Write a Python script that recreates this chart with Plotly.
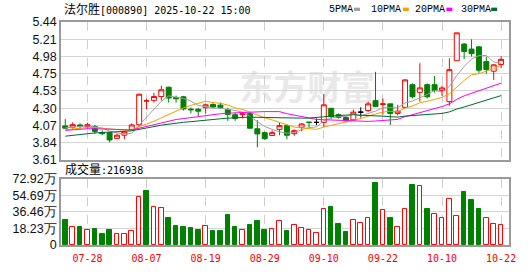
import plotly.graph_objects as go

# ---------------- data ----------------
dates = ["07-23","07-24","07-25","07-28","07-29","07-30","07-31","08-01","08-04","08-05",
         "08-06","08-07","08-08","08-11","08-12","08-13","08-14","08-15","08-18","08-19",
         "08-20","08-21","08-22","08-25","08-26","08-27","08-28","08-29","09-01","09-02",
         "09-03","09-04","09-05","09-08","09-09","09-10","09-11","09-12","09-15","09-16",
         "09-17","09-18","09-19","09-22","09-23","09-24","09-25","09-26","09-29","09-30",
         "10-09","10-10","10-13","10-14","10-15","10-16","10-17","10-20","10-21","10-22"]

opens = [4.06, 4.043, 4.073, 4.052, 4.052, 3.971, 3.971, 3.895, 3.937, 4.014,
         4.077, 4.390, 4.40, 4.45, 4.574, 4.438, 4.447, 4.283, 4.281, 4.302,
         4.345, 4.336, 4.277, 4.209, 4.21, 4.226, 4.022, 3.971, 3.933, 4.014,
         4.064, 3.958, 4.043, 4.110, 4.107, 4.107, 4.294, 4.209, 4.171, 4.141,
         4.243, 4.264, 4.396, 4.345, 4.353, 4.226, 4.306, 4.608, 4.506, 4.608,
         4.608, 4.532, 4.383, 4.926, 5.147, 5.08, 5.11, 4.914, 4.787, 4.876]
highs = [4.15, 4.107, 4.094, 4.103, 4.073, 4.001, 3.980, 3.958, 3.997, 4.094,
         4.489, 4.42, 4.50, 4.595, 4.582, 4.463, 4.459, 4.307, 4.298, 4.357,
         4.362, 4.370, 4.302, 4.234, 4.245, 4.243, 4.137, 3.984, 4.001, 4.107,
         4.081, 4.014, 4.094, 4.112, 4.16, 4.481, 4.294, 4.226, 4.192, 4.277,
         4.307, 4.383, 4.778, 4.425, 4.353, 4.340, 4.680, 4.625, 4.892, 4.625,
         4.723, 4.595, 4.956, 5.296, 5.160, 5.21, 5.12, 4.978, 4.88, 4.986]
lows = [4.02, 4.022, 4.022, 4.022, 3.954, 3.937, 3.844, 3.886, 3.882, 4.001,
        4.043, 4.28, 4.37, 4.396, 4.37, 4.37, 4.264, 4.226, 4.192, 4.226,
        4.302, 4.285, 4.128, 4.128, 4.16, 4.022, 3.776, 3.874, 3.933, 3.937,
        3.882, 3.929, 3.988, 4.043, 4.07, 4.043, 4.158, 4.158, 4.115, 4.128,
        4.171, 4.243, 4.319, 4.213, 4.073, 4.200, 4.298, 4.425, 4.383, 4.425,
        4.502, 4.459, 4.328, 4.926, 4.948, 4.98, 4.765, 4.752, 4.672, 4.829]
closes = [4.03, 4.077, 4.056, 4.077, 3.988, 3.958, 3.874, 3.937, 3.980, 4.073,
          4.481, 4.394, 4.45, 4.54, 4.43, 4.42, 4.285, 4.275, 4.256, 4.340,
          4.311, 4.302, 4.213, 4.158, 4.23, 4.030, 3.954, 3.890, 3.971, 4.064,
          3.937, 3.997, 4.086, 4.107, 4.107, 4.340, 4.183, 4.171, 4.128, 4.243,
          4.243, 4.353, 4.319, 4.353, 4.226, 4.256, 4.671, 4.447, 4.565, 4.447,
          4.532, 4.565, 4.807, 5.296, 5.049, 5.02, 4.80, 4.81, 4.871, 4.944]
# volume in 万 (10k shares)
volumes = [27.6, 19.8, 20.2, 17.0, 18.1, 12.7, 17.0, 12.4, 12.4, 15.6,
           53.1, 59.5, 42.5, 41.4, 29.7, 21.2, 19.5, 18.4, 17.0, 21.2,
           15.2, 15.2, 32.9, 20.2, 17.0, 22.3, 26.5, 16.3, 17.7, 26.2,
           15.9, 21.9, 19.1, 16.6, 13.5, 40.0, 42.5, 23.4, 14.9, 27.3,
           24.1, 30.4, 68.0, 38.9, 29.7, 19.8, 40.0, 65.8, 65.5, 39.3,
           34.7, 29.4, 50.6, 32.6, 58.4, 49.6, 39.3, 29.4, 23.0, 21.69]
# closes before the window (estimated), needed to seed the moving averages
prior_closes = [3.70, 3.72, 3.74, 3.75, 3.76, 3.78, 3.79, 3.80, 3.82, 3.84,
                3.90, 3.93, 3.96, 3.98, 4.00, 4.02, 4.03, 4.04, 4.03, 4.04,
                3.95, 3.97, 3.98, 4.00, 4.02, 4.03, 3.99, 4.06, 4.06]

tick_dates = ["07-28", "08-07", "08-19", "08-29", "09-10", "09-22", "10-10", "10-22"]
price_tick_text = ["3.61", "3.84", "4.07", "4.30", "4.53", "4.75", "4.98", "5.21", "5.44"]
price_min, price_max = 3.61, 5.44
vol_tick_text = ["0", "18.23万", "36.46万", "54.69万", "72.92万"]
vol_max = 72.92
ma_periods = [5, 10, 20, 30]
ma_names = ["5PMA", "10PMA", "20PMA", "30PMA"]
ma_colors = ["#a0a0a0", "#f2a100", "#ff00ff", "#006a2c"]
title_name = "法尔胜"
title_rest = "[000890] 2025-10-22 15:00"
last_volume = "216938"

RED = "#ff0000"
GREEN = "#008000"

# ---------------- derived ----------------
n = len(dates)
x = list(range(n))
up = [i for i in x if closes[i] > opens[i]]
dn = [i for i in x if closes[i] < opens[i]]
flat = [i for i in x if closes[i] == opens[i]]

all_closes = prior_closes + closes
off = len(prior_closes)
mas = []
for p in ma_periods:
    vals = []
    for i in x:
        seg = all_closes[off + i - p + 1: off + i + 1]
        vals.append(sum(seg) / len(seg))
    mas.append(vals)

prev = [prior_closes[-1]] + closes[:-1]
vol_red = [closes[i] >= prev[i] for i in x]

fig = go.Figure()


def sub(lst, idx):
    return [lst[i] for i in idx]


def candle(idx, col, fill):
    return go.Candlestick(
        x=idx, open=sub(opens, idx), high=sub(highs, idx), low=sub(lows, idx), close=sub(closes, idx),
        increasing=dict(line=dict(color=col, width=1), fillcolor=fill),
        decreasing=dict(line=dict(color=col, width=1), fillcolor=fill),
        whiskerwidth=0, showlegend=False, hoverinfo="skip", xaxis="x", yaxis="y")


fig.add_trace(candle(up, RED, "#ffffff"))
fig.add_trace(candle(dn, GREEN, GREEN))
fig.add_trace(candle(flat, "#000000", "#000000"))

for vals, col, name in zip(mas, ma_colors, ma_names):
    fig.add_trace(go.Scatter(x=x, y=vals, mode="lines", line=dict(color=col, width=1),
                             name=name, showlegend=False, hoverinfo="skip", xaxis="x", yaxis="y"))

fig.add_trace(go.Bar(
    x=x, y=volumes, width=0.62,
    marker=dict(color=["#ffffff" if r else GREEN for r in vol_red],
                line=dict(color=[RED if r else GREEN for r in vol_red], width=1)),
    showlegend=False, hoverinfo="skip", xaxis="x2", yaxis="y2"))

# ---------------- layout ----------------
W, H = 530, 276
L, R, T, B = 56, 21, 22, 21
PW, PH = W - L - R, H - T - B


def px(xp):
    return (xp - L) / PW


def py(yp):
    return (H - B - yp) / PH


tick_idx = [dates.index(d) for d in tick_dates]
step = (price_max - price_min) / (len(price_tick_text) - 1)
price_tickvals = [price_min + k * step for k in range(len(price_tick_text))]
vstep = vol_max / (len(vol_tick_text) - 1)
vol_tickvals = [k * vstep for k in range(len(vol_tick_text))]

xr = [-0.58, n + 0.07]
axis_font = dict(family="Liberation Sans, Arial", size=12.5, color="#111111")
common_x = dict(range=xr, tickvals=tick_idx, showgrid=True, gridcolor="#cfcfcf", griddash="dash",
                gridwidth=1, showline=True, mirror=True, linecolor="#9a9a9a", linewidth=1.5,
                zeroline=False, ticks="", fixedrange=True)

fig.update_layout(
    width=W, height=H, margin=dict(l=L, r=R, t=T, b=B, pad=0),
    paper_bgcolor="white", plot_bgcolor="white", showlegend=False, boxgap=0.33, boxgroupgap=0,
    bargap=0,
    xaxis=dict(domain=[0, 1], anchor="y", showticklabels=False, rangeslider=dict(visible=False), **common_x),
    yaxis=dict(domain=[py(166), 1], range=[price_min, price_max], tickvals=price_tickvals,
               ticktext=price_tick_text, showgrid=True, gridcolor="#d4d4d4", gridwidth=1,
               showline=True, mirror=True, linecolor="#9a9a9a", linewidth=1.5, zeroline=False,
               ticks="", tickfont=axis_font, fixedrange=True),
    xaxis2=dict(domain=[0, 1], anchor="y2", ticktext=tick_dates, showticklabels=True,
                ticklabelstandoff=3,
                tickfont=dict(family="DejaVu Sans Mono", size=10, color=RED), **common_x),
    yaxis2=dict(domain=[0, py(186)], range=[0, vol_max], tickvals=vol_tickvals, ticktext=vol_tick_text,
                showgrid=True, gridcolor="#d4d4d4", gridwidth=1, showline=True, mirror=True,
                linecolor="#9a9a9a", linewidth=1.5, zeroline=False, ticks="", tickfont=axis_font,
                fixedrange=True),
)

mono = "DejaVu Sans Mono, Noto Sans CJK SC"
annotations = [
    dict(text='<span style="font-size:12px">' + title_name + '</span>' + title_rest,
         x=px(57), y=py(8.5), xanchor="left", yanchor="middle",
         font=dict(family=mono, size=10, color="#000000")),
    dict(text='<span style="font-size:12px">成交量</span>:' + last_volume,
         x=px(58), y=py(176.5), xanchor="left", yanchor="middle",
         font=dict(family=mono, size=10, color="#000000")),
]
leg_x = [325, 367.3, 411.7, 458.3]
sq_x = [352.3, 401.7, 445.7, 491]
shapes = []
for name, col, lx, sx in zip(ma_names, ma_colors, leg_x, sq_x):
    annotations.append(dict(text=name, x=px(lx), y=py(9), xanchor="left", yanchor="middle",
                            font=dict(family="Liberation Mono, Courier New", size=10, color="#000000")))
    shapes.append(dict(type="rect", xref="paper", yref="paper", x0=px(sx), x1=px(sx + 6),
                       y0=py(10.5), y1=py(7), fillcolor=col, line=dict(width=0)))
for a in annotations:
    a.update(xref="paper", yref="paper", showarrow=False)

# watermark
shapes.append(dict(type="rect", xref="paper", yref="paper", x0=px(225), x1=px(385), y0=py(112), y1=py(76),
                   layer="below", line=dict(width=0), fillcolor="rgba(0,0,0,0)",
                   label=dict(text="东方财富", font=dict(family="Noto Sans CJK SC", size=34,
                                                       color="#e9e9e9", weight="bold"))))

fig.update_layout(annotations=annotations, shapes=shapes)

fig.write_html("out.html")
